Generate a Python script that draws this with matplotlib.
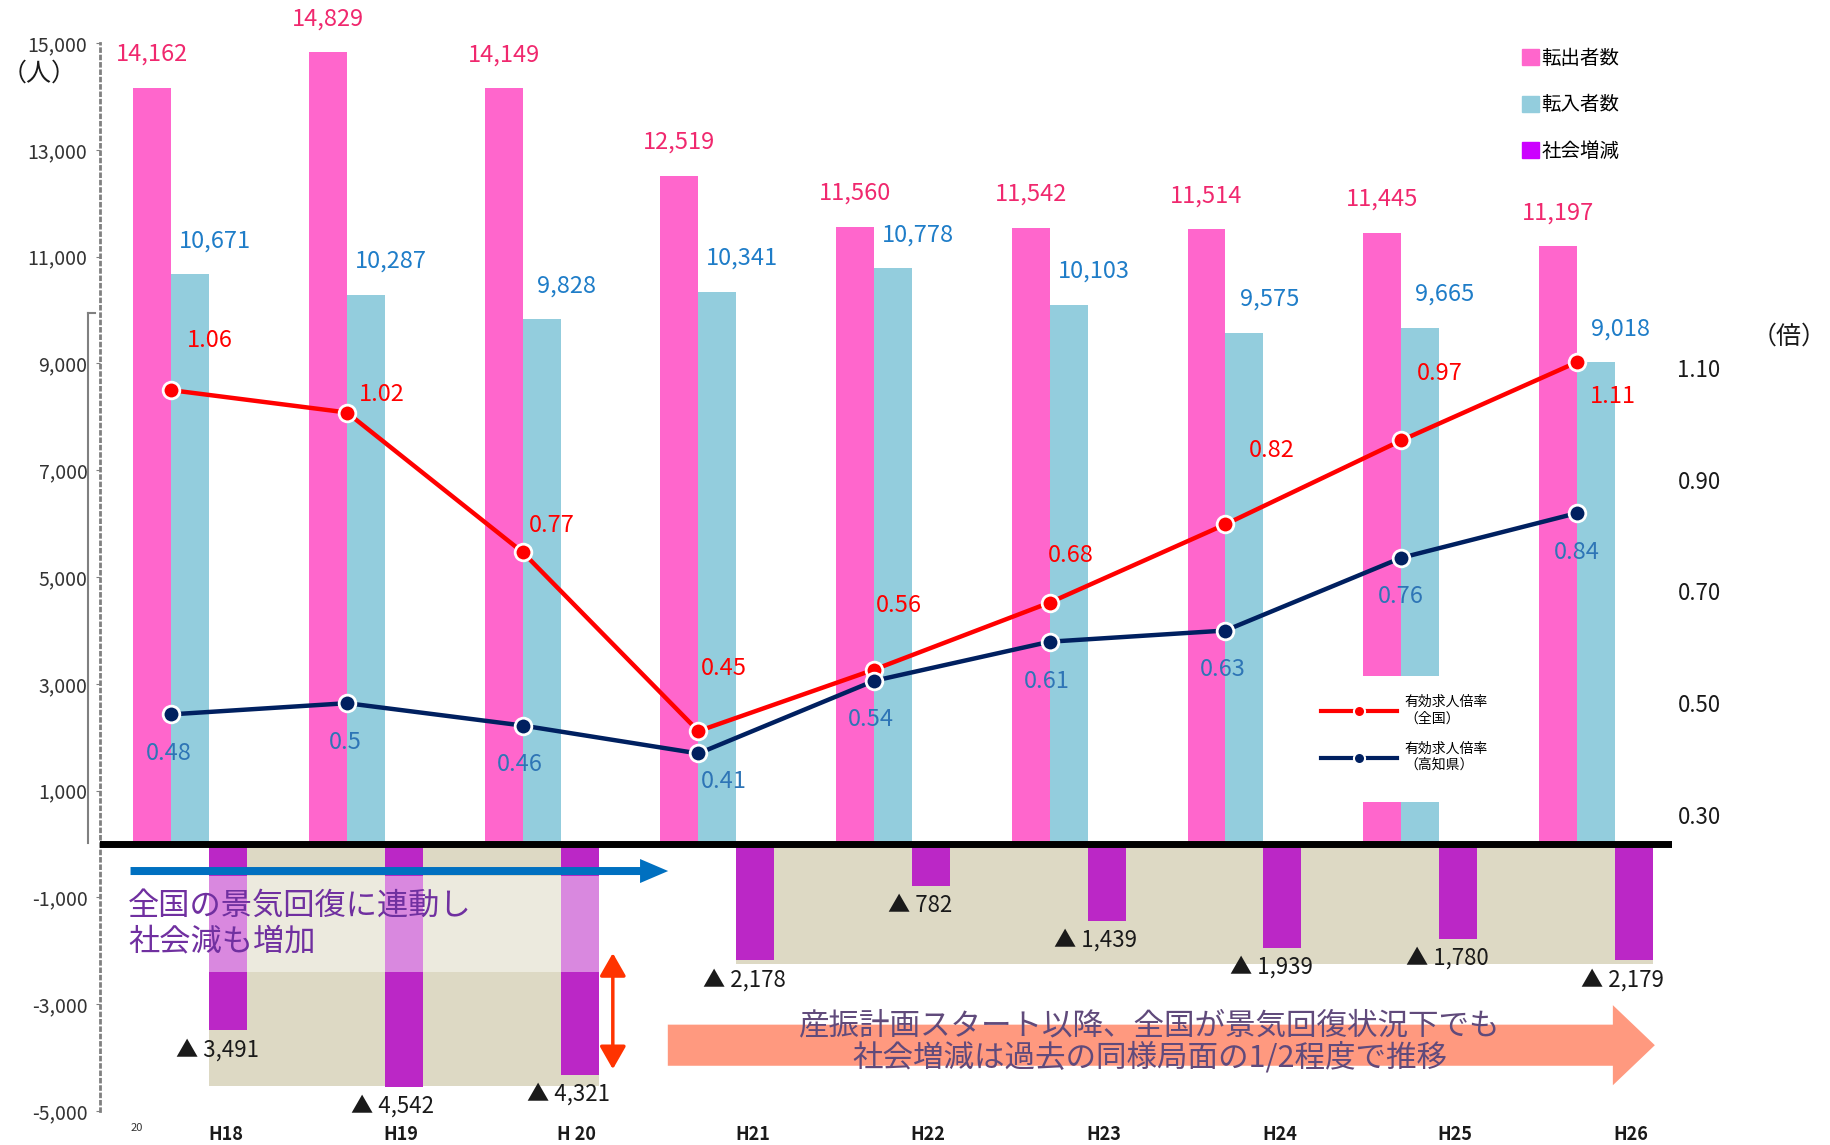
# Migration vs. job-offer ratio chart (Kochi)
import matplotlib
matplotlib.use('Agg')
import matplotlib.pyplot as plt
import numpy as np
from matplotlib.patches import Patch, Rectangle
from matplotlib.lines import Line2D

plt.rcParams['font.family'] = ['Noto Sans CJK JP', 'DejaVu Sans']

# data
years = ['H18', 'H19', 'H 20', 'H21', 'H22', 'H23', 'H24', 'H25', 'H26']
moved_out = [14162, 14829, 14149, 12519, 11560, 11542, 11514, 11445, 11197]
moved_in = [10671, 10287, 9828, 10341, 10778, 10103, 9575, 9665, 9018]
social = [-3491, -4542, -4321, -2178, -782, -1439, -1939, -1780, -2179]
ratio_nation = [1.06, 1.02, 0.77, 0.45, 0.56, 0.68, 0.82, 0.97, 1.11]
ratio_kochi = [0.48, 0.50, 0.46, 0.41, 0.54, 0.61, 0.63, 0.76, 0.84]
left_ticks = list(range(-5000, 15001, 2000))
right_ticks = [0.30, 0.50, 0.70, 0.90, 1.10]

# label offsets (points) for the ratio values
red_lbl_off = [(28, 36), (25, 13), (21, 19), (18, 45), (18, 46), (15, 34), (33, 53), (28, 48), (26, -25)]
navy_lbl_off = [(-2, -28), (-1, -28), (-2, -28), (18, -20), (-2, -28), (-2, -29), (-2, -28), (0, -28), (0, -28)]

PINK = '#FF66CC'
LBLUE = '#93CDDD'
PURPLE = '#BB27C6'
BEIGE = '#DDD9C4'

fig = plt.figure(figsize=(18.31, 11.45), dpi=100)
ax = fig.add_axes([0.0546, 0.0297, 0.8585, 0.9327])

x = np.arange(len(years))
w = 0.216

ax.bar(x - w, moved_out, w, color=PINK, zorder=2)
ax.bar(x, moved_in, w, color=LBLUE, zorder=2)
ax.bar(x + w, social, w, color=PURPLE, zorder=2)

for xi, v in zip(x, moved_out):
    ax.annotate(f'{v:,}', (xi - w, v), xytext=(0, 24), textcoords='offset points',
                ha='center', va='center', fontsize=17, color='#F0286E', zorder=6)
for xi, v in zip(x, moved_in):
    ax.annotate(f'{v:,}', (xi, v), xytext=(18, 24), textcoords='offset points',
                ha='center', va='center', fontsize=17, color='#1F7DC8', zorder=6)
for xi, v in zip(x, social):
    ax.annotate(f'▲ {abs(v):,}', (xi + w, v), xytext=(-8, -14), textcoords='offset points',
                ha='center', va='center', fontsize=16, color='#1a1a1a', zorder=6)

# shaded boxes behind the negative bars
ax.add_patch(Rectangle((x[0] + w / 2, -4530), (x[2] + 1.5 * w) - (x[0] + w / 2), 4530,
                       color=BEIGE, zorder=1, lw=0))
ax.add_patch(Rectangle((x[3] + w / 2, -2250), (x[8] + 1.5 * w) - (x[3] + w / 2), 2250,
                       color=BEIGE, zorder=1, lw=0))
# translucent text box
ax.add_patch(Rectangle((-0.36, -2400), (x[2] + 1.5 * w) + 0.36, 1800,
                       color='white', alpha=0.45, zorder=3, lw=0))
ax.text(-0.354, -1490, '全国の景気回復に連動し\n社会減も増加', fontsize=22.5, color='#7030A0',
        ha='left', va='center', linespacing=1.12, zorder=6)

# arrows
ax.arrow(-0.34, -506, 3.06, 0, width=150, head_width=450, head_length=0.16,
         length_includes_head=True, color='#0070C0', lw=0, zorder=5)
ax.annotate('', xy=(2.405, -2043), xytext=(2.405, -4217),
            arrowprops=dict(arrowstyle='<|-|>,head_length=0.7,head_width=0.4',
                            color='#FF3300', lw=2.5, mutation_scale=20,
                            shrinkA=0, shrinkB=0), zorder=5)
ax.arrow(2.718, -3768, 8.336 - 2.718, 0, width=770, head_width=1500, head_length=0.239,
         length_includes_head=True, color='#FF997F', lw=0, zorder=3)
ax.text(5.46, -3711, '産振計画スタート以降、全国が景気回復状況下でも\n社会増減は過去の同様局面の1/2程度で推移',
        fontsize=22, color='#604A7B', ha='center', va='center', linespacing=1.0, zorder=6)

ax.axhline(0, color='black', lw=5, zorder=4)

# white box under the line legend
ax.add_patch(Rectangle((6.2, 790), 1.4, 2360, color='white', zorder=3.6, lw=0))

ax.set_xlim(-0.514, 8.433)
ax.set_ylim(-5000, 15000)
ax.set_xticks([])
ax.set_yticks(left_ticks)
ax.set_yticklabels([f'{t:,}' for t in left_ticks], fontsize=14, color='#333333')
ax.tick_params(axis='y', length=3, color='#808080', pad=6)
for s in ['top', 'right', 'bottom']:
    ax.spines[s].set_visible(False)
ax.spines['left'].set_linestyle(':')
ax.spines['left'].set_color('#808080')
ax.spines['left'].set_linewidth(2)

for xi, lab in zip(x, years):
    ax.text(xi + 0.2, -0.022, lab, transform=ax.get_xaxis_transform(), ha='center',
            va='center', fontsize=13, fontweight='bold', color='#1a1a1a')

# bracket line next to the axis
ax.plot([-0.0076, -0.0076], [0.251, 0.747], transform=ax.transAxes, color='#808080',
        lw=1.5, clip_on=False)
ax.plot([-0.0076, -0.003], [0.747, 0.747], transform=ax.transAxes, color='#808080',
        lw=1.5, clip_on=False)

# ratio lines on right axis
ax2 = ax.twinx()
ax2.set_ylim(-0.2296, 1.681)
ax2.plot(x - w / 2, ratio_nation, color='#FF0000', lw=3.2, marker='o', ms=12,
         mfc='#FF0000', mec='white', mew=2, zorder=5)
ax2.plot(x - w / 2, ratio_kochi, color='#002060', lw=3.2, marker='o', ms=12,
         mfc='#002060', mec='white', mew=2, zorder=5)
for xi, v, off in zip(x, ratio_nation, red_lbl_off):
    ax2.annotate(f'{v:g}', (xi - w / 2, v), xytext=off, textcoords='offset points',
                 ha='center', va='center', fontsize=17, color='#FF0000')
for xi, v, off in zip(x, ratio_kochi, navy_lbl_off):
    ax2.annotate(f'{v:g}', (xi - w / 2, v), xytext=off, textcoords='offset points',
                 ha='center', va='center', fontsize=17, color='#2E75B6')
ax2.set_yticks(right_ticks)
ax2.set_yticklabels([f'{t:.2f}' for t in right_ticks], fontsize=16, color='#1a1a1a')
ax2.tick_params(axis='y', length=0, pad=4)
for s in ax2.spines.values():
    s.set_visible(False)

# legends
bar_handles = [Patch(color=PINK), Patch(color=LBLUE), Patch(color='#CC00FF')]
leg1 = ax2.legend(bar_handles, ['転出者数', '転入者数', '社会増減'], loc='upper left',
                  bbox_to_anchor=(1522 / 1831, 1 - 48 / 1145), bbox_transform=fig.transFigure,
                  frameon=False, fontsize=14, handlelength=0.9, handleheight=0.9,
                  handletextpad=0.1, labelspacing=1.3, borderpad=0, borderaxespad=0)
ax2.add_artist(leg1)
line_handles = [Line2D([], [], color='#FF0000', lw=3, marker='o', ms=8, mfc='#FF0000', mec='white', mew=1.5),
                Line2D([], [], color='#002060', lw=3, marker='o', ms=8, mfc='#002060', mec='white', mew=1.5)]
ax2.legend(line_handles, ['有効求人倍率\n（全国）', '有効求人倍率\n（高知県）'], loc='upper left',
           bbox_to_anchor=(1321 / 1831, 1 - 695 / 1145), bbox_transform=fig.transFigure,
           frameon=False, fontsize=10, handlelength=5.5, handletextpad=0.5,
           labelspacing=1.2, borderpad=0, borderaxespad=0, numpoints=1)

fig.text(2 / 1831, 1 - 74 / 1145, '（人）', fontsize=18, ha='left', va='center', color='#1a1a1a')
fig.text(1789 / 1831, 1 - 337 / 1145, '（倍）', fontsize=18, ha='center', va='center', color='#1a1a1a')
fig.text(137 / 1831, 1 - 1128 / 1145, '20', fontsize=8, ha='center', va='center', color='#333333')

fig.savefig('out.png', dpi=100)
